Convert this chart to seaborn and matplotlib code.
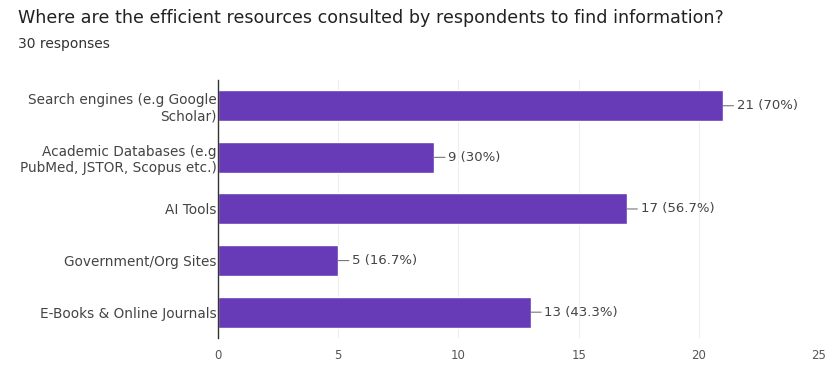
import matplotlib
matplotlib.use("Agg")
import matplotlib.pyplot as plt
import seaborn as sns
import pandas as pd

categories = [
    "Search engines (e.g Google\nScholar)",
    "Academic Databases (e.g\nPubMed, JSTOR, Scopus etc.)",
    "AI Tools",
    "Government/Org Sites",
    "E-Books & Online Journals",
]
counts = [21, 9, 17, 5, 13]
percent_labels = ["70%", "30%", "56.7%", "16.7%", "43.3%"]
x_ticks = [0, 5, 10, 15, 20, 25]

df = pd.DataFrame({"category": categories, "count": counts})

sns.set_theme(style="white")
plt.rcParams["font.family"] = ["DejaVu Sans"]

fig = plt.figure(figsize=(8.29, 3.65), dpi=100)
ax = fig.add_axes([0.263, 0.074, 0.725, 0.707])

sns.barplot(data=df, y="category", x="count", orient="h", color="#673ab7",
            saturation=1, width=0.6, ax=ax)

ax.set_xlim(0, 25)
ax.set_ylim(4.5, -0.5)
ax.set_xticks(x_ticks)
ax.set_xticklabels([str(t) for t in x_ticks], fontsize=8.5, color="#555555")
ax.tick_params(axis="y", labelsize=9.8, colors="#444444", length=0, pad=1)
ax.tick_params(axis="x", length=0, pad=8)
for lbl in ax.get_yticklabels():
    lbl.set_multialignment("right")
ax.set_xlabel("")
ax.set_ylabel("")
ax.xaxis.grid(True, color="#eeeeee", linewidth=0.8)
ax.set_axisbelow(True)
for side in ["top", "right", "bottom"]:
    ax.spines[side].set_visible(False)
ax.spines["left"].set_color("#333333")
ax.spines["left"].set_linewidth(1)

for i, (c, p) in enumerate(zip(counts, percent_labels)):
    ax.annotate(f"{c} ({p})", xy=(c, i), xytext=(10, 0), textcoords="offset points",
                va="center", ha="left", fontsize=9.5, color="#444444",
                arrowprops=dict(arrowstyle="-", color="#777777", lw=0.8,
                                shrinkA=0, shrinkB=0))

fig.text(0.022, 0.951, "Where are the efficient resources consulted by respondents to find information?",
         fontsize=12.6, color="#222222", va="center", ha="left")
fig.text(0.022, 0.879, "30 responses", fontsize=10, color="#333333", va="center", ha="left")

fig.savefig("out.png", dpi=100, facecolor="white")
